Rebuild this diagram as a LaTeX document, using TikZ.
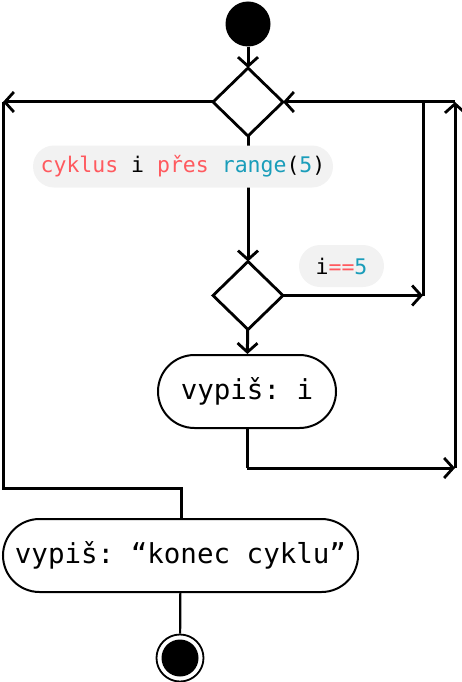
\documentclass[tikz,border=0pt]{standalone}
\usepackage{fontspec}
\setmonofont{DejaVu Sans Mono}
\usetikzlibrary{arrows.meta,positioning,shapes.geometric,shapes.misc}

\definecolor{kwred}{HTML}{FF5A5F}
\definecolor{fnblue}{HTML}{1A9DBA}
\definecolor{guardgray}{HTML}{F2F2F2}

\begin{document}
\begin{tikzpicture}[
  x=1pt, y=-1pt,
  start/.style={circle, fill=black, minimum size=45pt, inner sep=0pt},
  stop/.style={circle, draw, line width=1.8pt, minimum size=47pt, inner sep=0pt,
    path picture={\fill (path picture bounding box.center) circle (18.5pt);}},
  decision/.style={diamond, draw, line width=2.8pt, minimum width=70pt, minimum height=68pt, inner sep=0pt, outer sep=0pt},
  action/.style={rounded rectangle, draw, line width=2pt, minimum height=73pt, inner sep=0pt, font=\ttfamily\fontsize{27.5}{30}\selectfont},
  guard/.style={rounded rectangle, fill=guardgray, minimum height=42pt, inner sep=0pt, font=\ttfamily\fontsize{21.5}{24}\selectfont},
  line/.style={line width=3pt},
  arrow/.style={line, -{Straight Barb[length=9pt, width=20pt, line width=2.8pt]}}
]
\useasboundingbox (0,0) rectangle (461,682);

\node[start] (init) at (248,24) {};
\node[decision] (loop) at (248,102) {};
\node[decision] (test) at (248,295.5) {};
\node[action, minimum width=178pt] (printi) at (247,391.5) {vypiš: i};
\node[action, minimum width=355pt] (printend) at (180.5,555.5) {vypiš: “konec cyklu”};
\node[stop] (final) at (180,658) {};

\coordinate (exitL) at (3,102);
\coordinate (exitB) at (3,488);
\coordinate (exitR) at (181,488);
\coordinate (backT) at (455,102);
\coordinate (backB) at (455,468);
\coordinate (breakR) at (423,295.5);
\coordinate (breakT) at (423,102);
\coordinate (bodyB) at (247,468);

\draw[arrow] (init) -- (loop);
\draw[arrow] (loop) -- (test);
\draw[arrow] (test) -- (printi);
\draw[arrow] (loop.west) -- (exitL);
\draw[line] (exitL) -- (exitB) -- (exitR) -- (printend.north -| exitR);
\draw[arrow] (backT) -- (loop.east);
\draw[arrow] (test.east) -- (breakR);
\draw[line] (breakR) -- (breakT);
\draw[line] (printi.south) -- (bodyB);
\draw[arrow] (bodyB) -- (backB);
\draw[arrow] (backB) -- (backT);
\draw[line, line width=2.2pt] (printend) -- (final);

% labels on top of the lines
\node[guard, minimum width=300pt] (forlbl) at (183,166.5)
  {\textcolor{kwred}{cyklus} i \textcolor{kwred}{přes} \textcolor{fnblue}{range}(\textcolor{fnblue}{5})};
\node[guard, minimum width=85pt] (breaklbl) at (341.5,266)
  {i\textcolor{kwred}{==}\textcolor{fnblue}{5}};
\end{tikzpicture}
\end{document}
